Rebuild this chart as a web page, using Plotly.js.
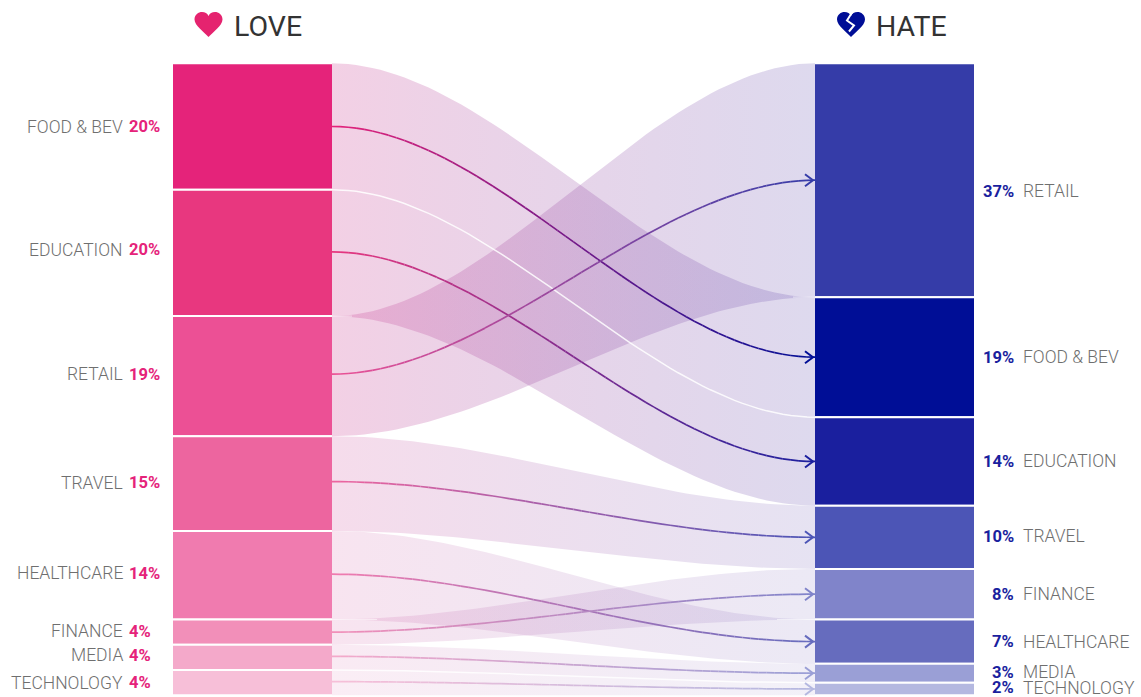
<!DOCTYPE html>
<html>
<head>
<meta charset="utf-8">
<script src="https://cdn.plot.ly/plotly-3.0.1.min.js"></script>
<style>html,body{margin:0;padding:0;background:#fff}#chart{width:1141px;height:697px}</style>
</head>
<body>
<div id="chart"></div>
<script>
// Share of brands loved and hated, by industry (percent of respondents)
const loveCategories = ['FOOD & BEV', 'EDUCATION', 'RETAIL', 'TRAVEL', 'HEALTHCARE', 'FINANCE', 'MEDIA', 'TECHNOLOGY'];
const loveValues = [20, 20, 19, 15, 14, 4, 4, 4];
const loveColors = ['#E5237A', '#E8377F', '#EC5095', '#ED659F', '#F07BAF', '#F28FB9', '#F4A9CA', '#F7BFD8'];

const hateCategories = ['RETAIL', 'FOOD & BEV', 'EDUCATION', 'TRAVEL', 'FINANCE', 'HEALTHCARE', 'MEDIA', 'TECHNOLOGY'];
const hateValues = [37, 19, 14, 10, 8, 7, 3, 2];
const hateColors = ['#353CA8', '#000E96', '#1A1F9E', '#4C55B6', '#8084CA', '#666CBE', '#9A9FD6', '#B4B8E0'];

// Ribbon strength for each industry, same order as loveCategories
const ribbonAlpha = [1, 1, 1, 0.75, 0.58, 0.58, 0.45, 0.38];

// Small vertical shifts (pixels) for the label rows and for the start of each centre line
const loveLabelShift = [0, -3, -2, -1, -2, -1, -2, 0];
const hateLabelShift = [11, 0, 0, -1, 0, 0, -1, -1];
const lineStartShift = [0, -1, -2, -2, -1, 0, -1, -1];

// Horizontal layout in canvas pixels; vertical scale is percent
const W = 1141, H = 697;
const TOP = 63.3, PX_PER_PCT = 6.32;
const leftBar = [173, 332], rightBar = [815, 974];
const yFromPx = px => (px - TOP) / PX_PER_PCT;

const cumulative = vals => { let s = 0; return vals.map(v => { const b = s; s += v; return b; }); };
const loveBase = cumulative(loveValues);
const hateBase = cumulative(hateValues);

const hexRgb = h => [1, 3, 5].map(i => parseInt(h.slice(i, i + 2), 16));
const mix = (a, b, t) => {
  const p = hexRgb(a), q = hexRgb(b);
  return 'rgb(' + p.map((c, i) => Math.round(c + (q[i] - c) * t)).join(',') + ')';
};

// Flow curve between the two columns
const ease = u => u * u * (3 - 2 * u);
const flowX = [];
const STEPS = 60;
for (let i = 0; i <= STEPS; i++) flowX.push(leftBar[1] + (rightBar[0] - leftBar[1]) * i / STEPS);
const flowY = (y0, y1) => flowX.map((x, i) => y0 + (y1 - y0) * ease(i / STEPS));

const traces = [];

// Ribbons
loveCategories.forEach((name, i) => {
  const j = hateCategories.indexOf(name);
  const a = ribbonAlpha[i];
  const top = flowY(loveBase[i], hateBase[j]);
  const bottom = flowY(loveBase[i] + loveValues[i], hateBase[j] + hateValues[j]);
  traces.push({
    type: 'scatter', mode: 'lines', hoverinfo: 'skip', showlegend: false,
    x: flowX.concat(flowX.slice().reverse()),
    y: top.concat(bottom.slice().reverse()),
    fill: 'toself', line: {width: 0},
    fillgradient: {
      type: 'horizontal',
      colorscale: [[0, `rgba(205,60,145,${0.24 * a})`], [1, `rgba(70,45,160,${0.18 * a})`]]
    }
  });
});

// White seams where neighbouring ribbons share an edge
const seam = (x, y, color, width) => traces.push({
  type: 'scatter', mode: 'lines', hoverinfo: 'skip', showlegend: false,
  x, y, line: {color, width}
});
['FOOD & BEV', 'MEDIA'].forEach(name => {
  const i = loveCategories.indexOf(name), j = hateCategories.indexOf(name);
  seam(flowX, flowY(loveBase[i] + loveValues[i], hateBase[j] + hateValues[j]), 'rgba(255,255,255,0.85)', 1.5);
});
// Short seams where ribbons leave or reach a column boundary and then cross
[['RETAIL', 20], ['FINANCE', 45]].forEach(([name, len]) => {
  const y = loveBase[loveCategories.indexOf(name)];
  seam([leftBar[1], leftBar[1] + len], [y, y], 'rgba(255,255,255,0.6)', 1);
});
[['FOOD & BEV', 22], ['HEALTHCARE', 38]].forEach(([name, len]) => {
  const y = hateBase[hateCategories.indexOf(name)];
  seam([rightBar[0] - len, rightBar[0]], [y, y], 'rgba(255,255,255,0.6)', 1);
});

// Centre lines with colour running from the love column to the hate column
loveCategories.forEach((name, i) => {
  const j = hateCategories.indexOf(name);
  const y0 = loveBase[i] + loveValues[i] / 2 + lineStartShift[i] / PX_PER_PCT;
  const y1 = hateBase[j] + hateValues[j] / 2;
  const ys = flowY(y0, y1);
  for (let s = 0; s < STEPS; s++) {
    traces.push({
      type: 'scatter', mode: 'lines', hoverinfo: 'skip', showlegend: false,
      x: flowX.slice(s, s + 2), y: ys.slice(s, s + 2),
      line: {color: mix(loveColors[i], hateColors[j], (s + 0.5) / STEPS), width: 1.7}
    });
  }
  // Open arrow tip
  traces.push({
    type: 'scatter', mode: 'lines', hoverinfo: 'skip', showlegend: false,
    x: [rightBar[0] - 10, rightBar[0] - 2, rightBar[0] - 10],
    y: [y1 - 6 / PX_PER_PCT, y1, y1 + 6 / PX_PER_PCT],
    line: {color: hateColors[j], width: 2}
  });
});

// Columns
const barTrace = (cx, w, names, vals, bases, colors) => ({
  type: 'bar', hoverinfo: 'skip', showlegend: false,
  x: names.map(() => cx), y: vals, base: bases, width: names.map(() => w),
  marker: {color: colors, line: {color: '#fff', width: 2}}
});
traces.push(barTrace((leftBar[0] + leftBar[1]) / 2, leftBar[1] - leftBar[0] + 2, loveCategories, loveValues, loveBase, loveColors));
traces.push(barTrace((rightBar[0] + rightBar[1]) / 2, rightBar[1] - rightBar[0] + 2, hateCategories, hateValues, hateBase, hateColors));

// Labels
const textFont = {family: 'Roboto, sans-serif', size: 17.5, color: '#6f6f6f', weight: 300};
const note = (x, y, text, anchor, font) => ({
  x, y, text, xanchor: anchor, yanchor: 'middle', showarrow: false, xref: 'x', yref: 'y',
  borderpad: 0, borderwidth: 0, font
});
const annotations = [];
loveCategories.forEach((name, i) => {
  const y = loveBase[i] + loveValues[i] / 2 + loveLabelShift[i] / PX_PER_PCT;
  annotations.push(note(122.5, y, name, 'right', textFont));
  annotations.push(note(129, y, loveValues[i] + '%', 'left',
    {family: 'Roboto, sans-serif', size: 16.5, color: '#E5237A', weight: 700}));
});
hateCategories.forEach((name, j) => {
  const y = hateBase[j] + hateValues[j] / 2 + hateLabelShift[j] / PX_PER_PCT;
  annotations.push(note(1023, y, name, 'left', textFont));
  annotations.push(note(1014, y, hateValues[j] + '%', 'right',
    {family: 'Roboto, sans-serif', size: 16.5, color: '#1A1F9E', weight: 700}));
});
const titleFont = {family: 'Roboto, sans-serif', size: 28.5, color: '#333', weight: 400};
annotations.push(note(234, yFromPx(26), 'LOVE', 'left', titleFont));
annotations.push(note(876, yFromPx(26), 'HATE', 'left', titleFont));

// Heart icons
const heartPath = 'M0,-12.5 C-4,-8 -14,-1 -14,5 C-14,10 -10,12.5 -6.5,12.5 C-3.5,12.5 -1,11 0,8.5 ' +
                  'C1,11 3.5,12.5 6.5,12.5 C10,12.5 14,10 14,5 C14,-1 4,-8 0,-12.5 Z';
const iconShape = (cx, cy, path, extra) => Object.assign({
  type: 'path', layer: 'above', xref: 'x', yref: 'y',
  xsizemode: 'pixel', ysizemode: 'pixel',
  xanchor: cx, yanchor: yFromPx(cy), path
}, extra);
const shapes = [
  iconShape(208.5, 24.5, heartPath, {fillcolor: '#E5236F', line: {width: 0}}),
  iconShape(851, 24.5, heartPath, {fillcolor: '#000E96', line: {width: 0}}),
  iconShape(851, 24.5, 'M1,12 L-4,4 L3,-1 L-2,-7', {line: {color: '#fff', width: 2}})
];

const layout = {
  width: W, height: H,
  margin: {l: 0, r: 0, t: 0, b: 0},
  paper_bgcolor: '#fff', plot_bgcolor: '#fff',
  barmode: 'overlay', showlegend: false,
  xaxis: {range: [0, W], visible: false, fixedrange: true},
  yaxis: {range: [yFromPx(H), yFromPx(0)], visible: false, fixedrange: true},
  annotations, shapes
};
Plotly.newPlot('chart', traces, layout, {displayModeBar: false, staticPlot: true});
</script>
</body>
</html>
